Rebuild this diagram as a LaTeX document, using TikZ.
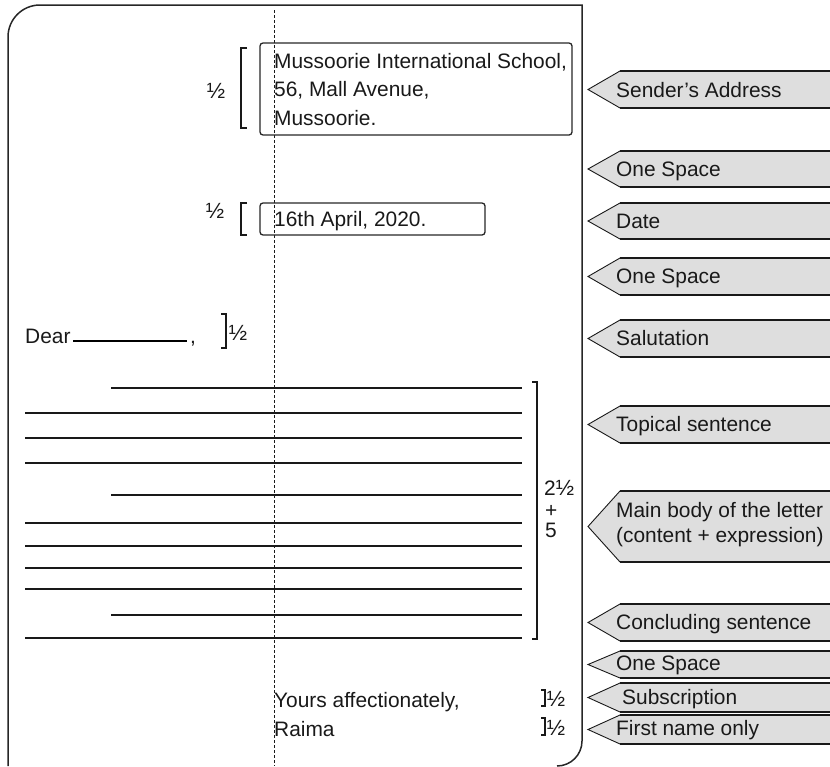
\documentclass[tikz,border=0pt]{standalone}
\usepackage{fontspec}
\setmainfont{Liberation Sans}
\begin{document}
\begin{tikzpicture}[x=1pt,y=-1pt,
  txt/.style={inner sep=0pt,anchor=base west,text=black!90,font=\fontsize{20.9}{24}\selectfont},
  half/.style={inner sep=0pt,anchor=base,text=black!90,font=\fontsize{22}{22}\selectfont},
  framel/.style={draw=black!85,line width=1.5pt},
  ruled/.style={draw=black!90,line width=1.5pt},
  brack/.style={draw=black!90,line width=1.3pt},
  boxl/.style={draw=black!85,line width=1.3pt,rounded corners=3pt},
  tagfill/.style={fill=black!13},
  tagedge/.style={draw=black!90,line width=1.8pt},
  tagtip/.style={draw=black!90,line width=0.9pt}
]
\useasboundingbox (0,0) rectangle (830,766);

% letter frame
\draw[framel] (8,766) -- (8,37) .. controls (8,19.3) and (22.3,5) .. (40,5)
  -- (582,5) -- (582,741) .. controls (582,754.8) and (570.8,766) .. (557,766);

% margin line
\draw[black!90,line width=0.8pt,dash pattern=on 3pt off 2pt] (274,10) -- (274,766);

% sender's address
\draw[boxl] (260,43) rectangle (572,135);
\node[txt] (a1) at (274,68) {Mussoorie International School,};
\node[txt] (a2) at (274,96.5) {56, Mall Avenue,};
\node[txt] (a3) at (274,125) {Mussoorie.};
\draw[brack] (247,48) -- (241,48) -- (241,128) -- (247,128);
\node[half] (h1) at (216,98) {½};

% date
\draw[boxl] (260,203) rectangle (485,235);
\node[txt] (d1) at (274,226) {16th April, 2020.};
\draw[brack] (247,203) -- (241,203) -- (241,235) -- (247,235);
\node[half] (h2) at (215,218.5) {½};

% salutation
\node[txt] (s1) at (25,343) {Dear};
\draw[line width=1.3pt] (73,341) -- (187,341);
\node[txt] (s2) at (190,343) {,};
\draw[brack] (221,314) -- (226,314) -- (226,348) -- (221,348);
\node[half] (h3) at (238,340) {½};

% body lines
\foreach \y in {388,495,615} \draw[ruled] (111,\y) -- (522,\y);
\foreach \y in {413,438,463,523,546,568,589,638} \draw[ruled] (25,\y) -- (522,\y);
\draw[brack] (532,382) -- (537,382) -- (537,639) -- (532,639);
\node[txt] (b1) at (544,495) {2{\fontsize{22}{22}\selectfont ½}};
\node[txt] (b2) at (545,517.5) {+};
\node[txt] (b3) at (545,537.5) {5};

% subscription
\node[txt] (c1) at (274,707) {Yours affectionately,};
\node[txt] (c2) at (274,736) {Raima};
\draw[brack] (541,690) -- (545,690) -- (545,706) -- (541,706);
\node[half] (h4) at (556,706) {½};
\draw[brack] (541,718) -- (545,718) -- (545,735) -- (541,735);
\node[half] (h5) at (556,735) {½};

% tags
\newcommand\tagshape[2]{%
  \fill[tagfill] (588,{(#1+#2)/2}) -- (620,#1) -- (831,#1) -- (831,#2) -- (620,#2) -- cycle;
  \draw[tagtip] (620,#1) -- (588,{(#1+#2)/2}) -- (620,#2);
  \draw[tagedge] (619.5,#1) -- (831,#1);
  \draw[tagedge] (619.5,#2) -- (831,#2);
}
\tagshape{71}{108}
\tagshape{151}{187}
\tagshape{203}{239}
\tagshape{258}{295}
\tagshape{320}{357}
\tagshape{406}{443}
\tagshape{491}{562}
\tagshape{604}{641}
\tagshape{651}{678}
\tagshape{683}{712}
\tagshape{715}{744}
\node[txt] (t1) at (616,97) {Sender’s Address};
\node[txt] (t2) at (616,176) {One Space};
\node[txt] (t3) at (616,228) {Date};
\node[txt] (t4) at (616,283.5) {One Space};
\node[txt] (t5) at (616,345.5) {Salutation};
\node[txt] (t6) at (616,431.5) {Topical sentence};
\node[txt] (t7a) at (616,517) {Main body of the letter};
\node[txt] (t7b) at (616,542) {(content + expression)};
\node[txt] (t8) at (616,629.5) {Concluding sentence};
\node[txt] (t9) at (616,670.5) {One Space};
\node[txt] (t10) at (622,704.5) {Subscription};
\node[txt] (t11) at (616,735) {First name only};
\end{tikzpicture}
\end{document}
